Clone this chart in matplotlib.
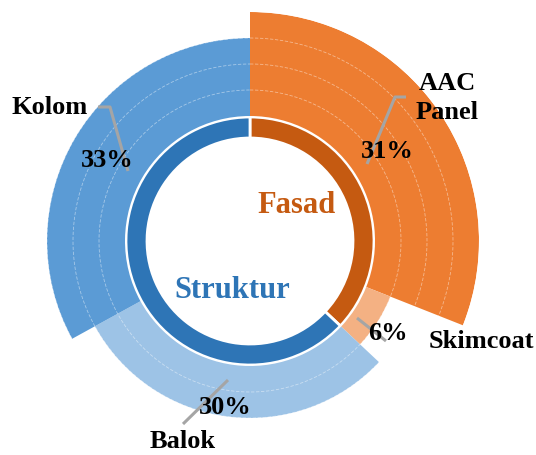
import numpy as np
import matplotlib.pyplot as plt

# data
groups = ["Fasad", "Struktur"]
items = ["AAC\nPanel", "Skimcoat", "Balok", "Kolom"]
item_pct = [31, 6, 30, 33]
item_group = [0, 0, 1, 1]
item_level = [4, 1, 2, 3]   # outer ring depth (rank)
pct_labels = ["31%", "6%", "30%", "33%"]

group_colors = ["#C55A11", "#2E75B6"]
item_colors = ["#ED7D31", "#F4B183", "#9DC3E6", "#5B9BD5"]

W, H = 536, 455
fig = plt.figure(figsize=(W / 100, H / 100), dpi=100)

# polar axes, 1 data unit = 1 pixel
R = 229
cx, cy = 250, 241
ax = fig.add_axes([(cx - R) / W, 1 - (cy + R) / H, 2 * R / W, 2 * R / H],
                  projection="polar")
ax.set_theta_zero_location("N")
ax.set_theta_direction(-1)
ax.set_ylim(0, R)
ax.axis("off")

inner_bottom, inner_h = 103, 21
outer_bottom, step = 125, 26

# inner ring
group_pct = [sum(p for p, g in zip(item_pct, item_group) if g == i) for i in range(len(groups))]
starts = np.cumsum([0] + group_pct[:-1]) / 100 * 2 * np.pi
ax.bar(starts, inner_h, width=np.array(group_pct) / 100 * 2 * np.pi, bottom=inner_bottom,
       align="edge", color=group_colors, edgecolor="white", linewidth=2)

# outer ring
starts = np.cumsum([0] + item_pct[:-1]) / 100 * 2 * np.pi
ax.bar(starts, np.array(item_level) * step, width=np.array(item_pct) / 100 * 2 * np.pi,
       bottom=outer_bottom, align="edge", color=item_colors, edgecolor="none", linewidth=0)

# faint ring grid
t = np.linspace(0, 2 * np.pi, 400)
for k in range(1, 4):
    ax.plot(t, np.full_like(t, outer_bottom + k * step), color="white", lw=0.6,
            ls=(0, (4, 2)), alpha=0.45)


def px(x, y):
    return (x / W, 1 - y / H)


font = dict(family="Liberation Serif", weight="bold")
lead = dict(color="#A5A5A5", lw=2.2, solid_capstyle="butt")

# item labels: (name pos, name ha, pct pos, leader points)
name_pos = [(447, 98), (481, 341), (183, 441), (12, 108)]
name_ha = ["center", "center", "center", "left"]
pct_pos = [(387, 152), (388, 333), (225, 407), (107, 160)]
leaders = [
    [(406, 97), (395, 97), (367, 164)],
    [(357, 318), (386, 341)],
    [(228, 380), (183, 424)],
    [(98, 107), (110, 107), (128, 171)],
]

for i in range(len(items)):
    xs, ys = zip(*[px(*p) for p in leaders[i]])
    fig.add_artist(plt.Line2D(xs, ys, transform=fig.transFigure, **lead))
    fig.text(*px(*name_pos[i]), items[i], ha=name_ha[i], va="center",
             fontsize=19, linespacing=1.3, **font)
    fig.text(*px(*pct_pos[i]), pct_labels[i], ha="center", va="center",
             fontsize=19, **font)

fig.text(*px(297, 206), groups[0], color=group_colors[0], ha="center", va="center",
         fontsize=22, **font)
fig.text(*px(232, 291), groups[1], color=group_colors[1], ha="center", va="center",
         fontsize=22, **font)

fig.savefig("out.png", dpi=100)
